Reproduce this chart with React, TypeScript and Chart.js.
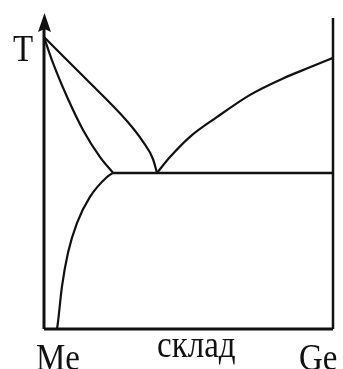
import React, { useEffect, useRef } from "react";
import { Chart, registerables } from "chart.js";

Chart.register(...registerables);

// Composition axis: 0 = pure Me, 100 = pure Ge. Temperature axis: 0..100 (relative).
const liquidusMe: [number, number][] = [
  [0, 92.4], [14.2, 79.4], [28.7, 65.8], [34.3, 59.2], [37.7, 53.8], [39.1, 49.4],
];
const solidusMe: [number, number][] = [
  [0, 92.4], [3.1, 84.2], [8.0, 73.4], [13.5, 63.0], [19.4, 54.4], [23.9, 49.4],
];
const solvusMe: [number, number][] = [
  [4.5, 0], [4.8, 1.9], [6.2, 13.3], [8.3, 24.1], [11.4, 33.5],
  [15.9, 41.8], [21.8, 48.1], [23.9, 49.4],
];
const liquidusGe: [number, number][] = [
  [39.1, 49.4], [43.6, 54.4], [50.5, 60.8], [59.9, 67.1], [71.3, 74.1],
  [82.7, 79.3], [92.0, 82.8], [100, 85.8],
];
const eutecticLine: [number, number][] = [[23.9, 49.4], [100, 49.4]];
const tempAxis: [number, number][] = [[0, 0], [0, 97]];
const compAxis: [number, number][] = [[0, 0], [100, 0]];
const geLine: [number, number][] = [[100, 0], [100, 98.4]];

const axisLabel = "T";
const leftLabel = "Me";
const middleLabel = "склад";
const rightLabel = "Ge";

const toPts = (a: [number, number][]) => a.map(([x, y]) => ({ x, y }));

const line = (data: [number, number][], width: number, curved: boolean) => ({
  data: toPts(data),
  showLine: true,
  borderColor: "#111",
  borderWidth: width,
  pointRadius: 0,
  tension: curved ? 0.4 : 0,
  cubicInterpolationMode: curved ? ("monotone" as const) : ("default" as const),
  clip: false as const,
  borderCapStyle: "butt" as const,
});

// arrow head on top of the temperature axis
const arrowPlugin = {
  id: "tempArrow",
  afterDatasetsDraw(chart: any) {
    const { ctx, scales } = chart;
    const ax = scales.x.getPixelForValue(0);
    const tip = scales.y.getPixelForValue(100);
    ctx.save();
    ctx.fillStyle = "#111";
    ctx.beginPath();
    ctx.moveTo(ax + 0.5, tip);
    ctx.lineTo(ax + 7, tip + 19);
    ctx.lineTo(ax + 0.5, tip + 16);
    ctx.lineTo(ax - 6, tip + 19);
    ctx.closePath();
    ctx.fill();
    ctx.restore();
  },
};

// baseline sits 27.6px below the box top for 33px Liberation Serif with line-height 33px
const BASE = 27.6;
function Label({ text, x, baseline }: { text: string; x: number; baseline: number }) {
  return (
    <div
      style={{
        position: "absolute",
        left: x,
        top: baseline - BASE,
        font: '33px/33px "Liberation Serif"',
        color: "#111",
        whiteSpace: "nowrap",
        transform: "scaleY(1.17)",
        transformOrigin: `0 ${BASE}px`,
      }}
    >
      {text}
    </div>
  );
}

export default function App() {
  const ref = useRef<HTMLCanvasElement | null>(null);
  useEffect(() => {
    if (!ref.current) return;
    const chart = new Chart(ref.current, {
      type: "scatter",
      data: {
        datasets: [
          line(tempAxis, 3, false),
          line(compAxis, 3, false),
          line(geLine, 2.5, false),
          line(eutecticLine, 2.5, false),
          line(liquidusMe, 2.2, true),
          line(solidusMe, 2.2, true),
          line(solvusMe, 2.2, true),
          line(liquidusGe, 2.2, true),
        ] as any,
      },
      options: {
        responsive: false,
        animation: false,
        layout: { padding: { left: 44, right: 10, top: 13, bottom: 40 } },
        scales: {
          x: { type: "linear", min: 0, max: 100, display: false },
          y: { type: "linear", min: 0, max: 100, display: false },
        },
        plugins: { legend: { display: false }, tooltip: { enabled: false } },
      },
      plugins: [arrowPlugin],
    });
    return () => chart.destroy();
  }, []);
  return (
    <div style={{ position: "absolute", left: 0, top: 0, width: 343, height: 369, background: "#fff", overflow: "hidden" }}>
      <canvas ref={ref} width={343} height={369} style={{ position: "absolute", left: 0, top: 0 }} />
      <Label text={axisLabel} x={13} baseline={62} />
      <Label text={leftLabel} x={36} baseline={371} />
      <Label text={middleLabel} x={157} baseline={358} />
      <Label text={rightLabel} x={299} baseline={371} />
    </div>
  );
}
